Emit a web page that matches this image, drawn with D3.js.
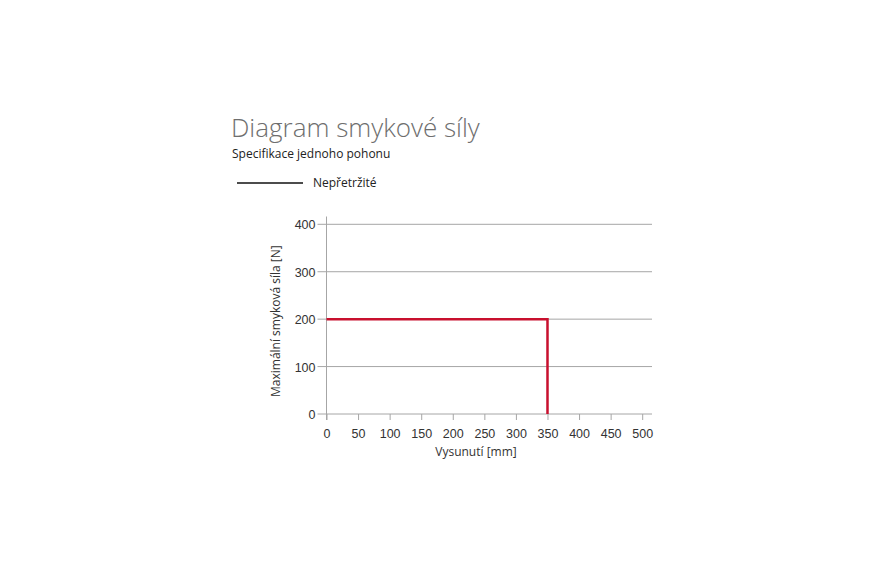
<!DOCTYPE html>
<html lang="cs">
<head>
    <meta charset="UTF-8">
    <title>Diagram smykové síly</title>
    <script src="https://d3js.org/d3.v7.min.js"></script>
    <style>
        body {
            margin: 0;
            background: #fff;
            font-family: "Open Sans", "Noto Sans", sans-serif;
        }
        .title {
            font-size: 26px;
            font-weight: 300;
            fill: #6e6e6e;
        }
        .subtitle, .legend-text {
            font-size: 12px;
            fill: #222;
        }
        .tick text {
            font-size: 12.5px;
            fill: #333;
        }
        .axis-title {
            font-size: 12px;
            fill: #333;
        }
    </style>
</head>
<body>
    <svg id="chart" width="885" height="575"></svg>
    <script>
        // data
        const xTicks = [0, 50, 100, 150, 200, 250, 300, 350, 400, 450, 500];
        const yTicks = [0, 100, 200, 300, 400];
        const seriesName = "Nepřetržité";
        const extension = [0, 350, 350];   // mm
        const shearForce = [200, 200, 0];  // N

        const svg = d3.select("#chart");

        const margin = { left: 326.5, top: 224.3, right: 652, bottom: 414 };

        const x = d3.scaleLinear().domain([0, 500]).range([margin.left, 642.2]);
        const y = d3.scaleLinear().domain([0, 400]).range([margin.bottom, margin.top]);

        // title block
        svg.append("text").attr("class", "title")
            .attr("x", 231).attr("y", 137)
            .text("Diagram smykové síly");
        svg.append("text").attr("class", "subtitle")
            .attr("x", 232).attr("y", 158)
            .text("Specifikace jednoho pohonu");

        // legend
        svg.append("line")
            .attr("x1", 237).attr("x2", 303)
            .attr("y1", 183).attr("y2", 183)
            .attr("stroke", "#111").attr("stroke-width", 1.5);
        svg.append("text").attr("class", "legend-text")
            .attr("x", 313).attr("y", 186.5)
            .text(seriesName);

        // horizontal grid lines (also y ticks)
        svg.append("g")
            .selectAll("line")
            .data(yTicks)
            .join("line")
            .attr("x1", margin.left - 9)
            .attr("x2", margin.right)
            .attr("y1", d => y(d)).attr("y2", d => y(d))
            .attr("stroke", "#a6a6a6").attr("stroke-width", 1);

        // y axis line
        svg.append("line")
            .attr("x1", margin.left).attr("x2", margin.left)
            .attr("y1", 216.5).attr("y2", margin.bottom + 6)
            .attr("stroke", "#a6a6a6").attr("stroke-width", 1);

        // x axis
        const xAxis = svg.append("g")
            .attr("transform", `translate(0,${margin.bottom})`)
            .call(d3.axisBottom(x).tickValues(xTicks).tickSize(6).tickPadding(9).tickFormat(d3.format("d")));
        xAxis.select(".domain").remove();
        xAxis.selectAll(".tick line").attr("stroke", "#a6a6a6");

        // y axis labels
        const yAxis = svg.append("g")
            .attr("transform", `translate(${margin.left},0)`)
            .call(d3.axisLeft(y).tickValues(yTicks).tickSize(9).tickPadding(2).tickFormat(d3.format("d")));
        yAxis.select(".domain").remove();
        yAxis.selectAll(".tick line").remove();
        yAxis.selectAll(".tick text").attr("dy", "0.36em");

        // axis titles
        svg.append("text").attr("class", "axis-title")
            .attr("x", 476).attr("y", 456)
            .attr("text-anchor", "middle")
            .text("Vysunutí [mm]");
        svg.append("text").attr("class", "axis-title")
            .attr("transform", `translate(280,${(margin.top + margin.bottom) / 2 + 2}) rotate(-90)`)
            .attr("text-anchor", "middle")
            .text("Maximální smyková síla [N]");

        // series
        const pts = extension.map((v, i) => [v, shearForce[i]]);
        svg.append("path")
            .datum(pts)
            .attr("fill", "none")
            .attr("stroke", "#c8102e")
            .attr("stroke-width", 2.5)
            .attr("d", d3.line().x(d => x(d[0])).y(d => y(d[1])));
    </script>
</body>
</html>
